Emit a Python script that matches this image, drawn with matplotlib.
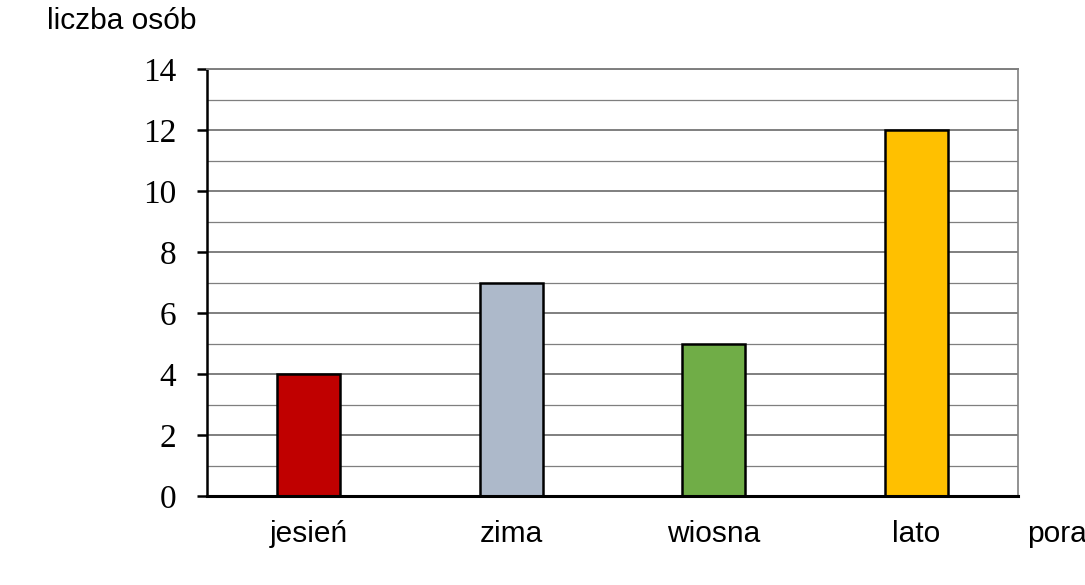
import matplotlib.pyplot as plt
from matplotlib.ticker import MultipleLocator

# dane z wykresu
pory_roku = ['jesień', 'zima', 'wiosna', 'lato']
liczba_osob = [4, 7, 5, 12]
kolory = ['#C00000', '#ADB9CA', '#70AD47', '#FFC000']

fig = plt.figure(figsize=(10.85, 5.85), dpi=100)
ax = fig.add_axes([0.1908, 0.1521, 0.9382 - 0.1908, 0.882 - 0.1521])

ax.bar(range(len(pory_roku)), liczba_osob, width=0.31, color=kolory,
       edgecolor='black', linewidth=1.8, zorder=3)

ax.set_xlim(-0.5, len(pory_roku) - 0.5)
ax.set_ylim(0, 14)
ax.yaxis.set_major_locator(MultipleLocator(2))
ax.yaxis.set_minor_locator(MultipleLocator(1))

# siatka
ax.grid(True, which='major', axis='y', color='#7f7f7f', linewidth=1.4, zorder=0)
ax.grid(True, which='minor', axis='y', color='#7f7f7f', linewidth=0.9, zorder=0)
ax.set_axisbelow(True)

# osie
ax.spines['left'].set_color('black')
ax.spines['left'].set_linewidth(1.8)
ax.spines['bottom'].set_color('black')
ax.spines['bottom'].set_linewidth(2.2)
ax.spines['bottom'].set_zorder(4)
ax.spines['top'].set_color('#7f7f7f')
ax.spines['top'].set_linewidth(1.4)
ax.spines['right'].set_color('#7f7f7f')
ax.spines['right'].set_linewidth(1.2)

ax.set_xticks(range(len(pory_roku)))
ax.set_xticklabels(pory_roku, family='Liberation Sans', fontsize=21.5)
ax.tick_params(axis='x', length=0, pad=17)
ax.tick_params(axis='y', which='major', direction='out', length=7.2, width=1.8,
               pad=15, labelsize=24)
ax.tick_params(axis='y', which='minor', length=0)
for lab in ax.get_yticklabels():
    lab.set_family(['Liberation Serif', 'DejaVu Serif'])

fig.text(47 / 1085, 1 - 21 / 585, 'liczba osób', family='Liberation Sans',
         fontsize=21.5, ha='left', va='center')
fig.text(1027 / 1085, 1 - 534 / 585, 'pora', family='Liberation Sans',
         fontsize=21.5, ha='left', va='center')

plt.savefig('out.png', dpi=100)
plt.close()
